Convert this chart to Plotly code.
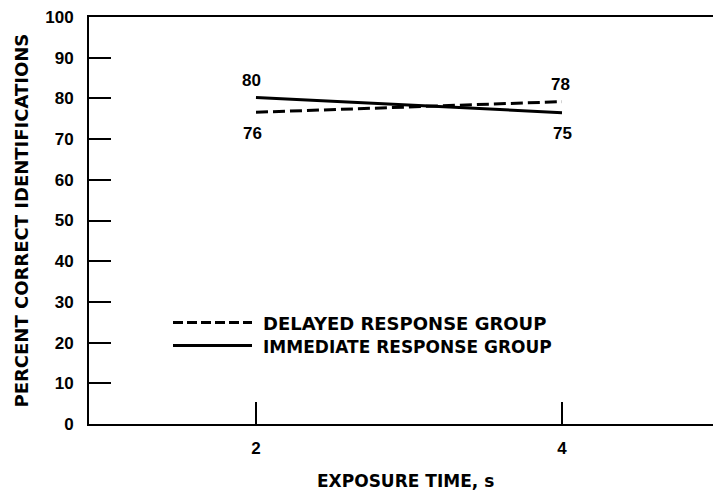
import plotly.graph_objects as go

exposure = [2, 4]
immediate = [80.2, 76.5]
delayed = [76.6, 79.2]
immediate_labels = ["80", "75"]
delayed_labels = ["76", "78"]
y_ticks = [0, 10, 20, 30, 40, 50, 60, 70, 80, 90, 100]
x_ticks = [2, 4]

NUMFONT = "Liberation Sans"
TXTFONT = "DejaVu Sans"
OFF = 8  # page body margin
W, H = 721, 491
L, R, T, B = 89 - OFF, 0, 15 - OFF, H - (424 - OFF)
pw, ph = W - L - R, H - T - B

def px_x(p):
    return (p - OFF - L) / pw

def px_y(p):
    return (H - B - (p - OFF)) / ph

x_left = 2 - (256 - 89) / 153
x_right = 4 + (OFF + W - 562) / 153

fig = go.Figure()
fig.add_trace(go.Scatter(x=exposure, y=delayed, mode="lines",
                         line=dict(color="black", width=3, dash="12px,5px"),
                         name="DELAYED RESPONSE GROUP", showlegend=False))
fig.add_trace(go.Scatter(x=exposure, y=immediate, mode="lines",
                         line=dict(color="black", width=3),
                         name="IMMEDIATE RESPONSE GROUP", showlegend=False))

numfont = dict(family=NUMFONT, size=17, color="black", weight="bold")
txtfont = dict(family=TXTFONT, size=17, color="black", weight="bold")
ytfont = dict(family=TXTFONT, size=18, color="black", weight="bold")
DY = -14  # compensation for text box centring

ann = []
imm_d = dict(zip(exposure, immediate))
del_d = dict(zip(exposure, delayed))
for x, v, t in zip(exposure, immediate, immediate_labels):
    up = v >= del_d[x]
    ann.append(dict(x=x, y=v, xref="x", yref="y", text=t, showarrow=False,
                    yshift=17 if up else -21, xshift=-5 if x == 2 else 0, font=numfont))
for x, v, t in zip(exposure, delayed, delayed_labels):
    up = v > imm_d[x]
    ann.append(dict(x=x, y=v, xref="x", yref="y", text=t, showarrow=False,
                    yshift=17 if up else -21, xshift=-4 if x == 2 else -2, font=numfont))

# legend (drawn manually)
shapes = [
    dict(type="line", xref="paper", yref="paper", x0=px_x(173), x1=px_x(252),
         y0=px_y(322), y1=px_y(322), line=dict(color="black", width=3, dash="10px,4px")),
    dict(type="line", xref="paper", yref="paper", x0=px_x(173), x1=px_x(252),
         y0=px_y(345), y1=px_y(345), line=dict(color="black", width=3)),
]
ann.append(dict(x=px_x(261), y=px_y(322), xref="paper", yref="paper", xanchor="left",
                yshift=DY, text="DELAYED RESPONSE GROUP", showarrow=False,
                font=dict(family=TXTFONT, size=18, color="black", weight="bold")))
ann.append(dict(x=px_x(261), y=px_y(345), xref="paper", yref="paper", xanchor="left",
                yshift=DY, text="IMMEDIATE RESPONSE GROUP", showarrow=False, font=txtfont))
# axis titles
ann.append(dict(x=px_x(21), y=px_y(220), xref="paper", yref="paper", textangle=-90,
                xshift=-12, text="PERCENT CORRECT IDENTIFICATIONS", showarrow=False,
                font=ytfont))
ann.append(dict(x=px_x(405), y=px_y(479), xref="paper", yref="paper", yshift=DY,
                text="EXPOSURE TIME, s", showarrow=False, font=txtfont))

fig.update_layout(
    width=W, height=H, margin=dict(l=L, r=R, t=T, b=B),
    paper_bgcolor="white", plot_bgcolor="white",
    annotations=ann, shapes=shapes, showlegend=False,
    font=dict(family=NUMFONT, color="black"),
)
fig.update_xaxes(range=[x_left, x_right], tickvals=x_ticks, ticktext=[str(v) for v in x_ticks],
                 ticks="inside", ticklen=22, tickwidth=2, tickcolor="black",
                 showline=True, linecolor="black", linewidth=2, mirror=True,
                 showgrid=False, zeroline=False, ticklabelstandoff=8,
                 ticklabeloverflow="allow", tickfont=numfont)
fig.update_yaxes(range=[0, 100], tickvals=y_ticks,
                 ticks="inside", ticklen=22, tickwidth=2, tickcolor="black",
                 showline=True, linecolor="black", linewidth=2, mirror=False,
                 showgrid=False, zeroline=False, ticklabelstandoff=10,
                 ticklabeloverflow="allow", tickfont=numfont)

fig.write_html("out.html")
